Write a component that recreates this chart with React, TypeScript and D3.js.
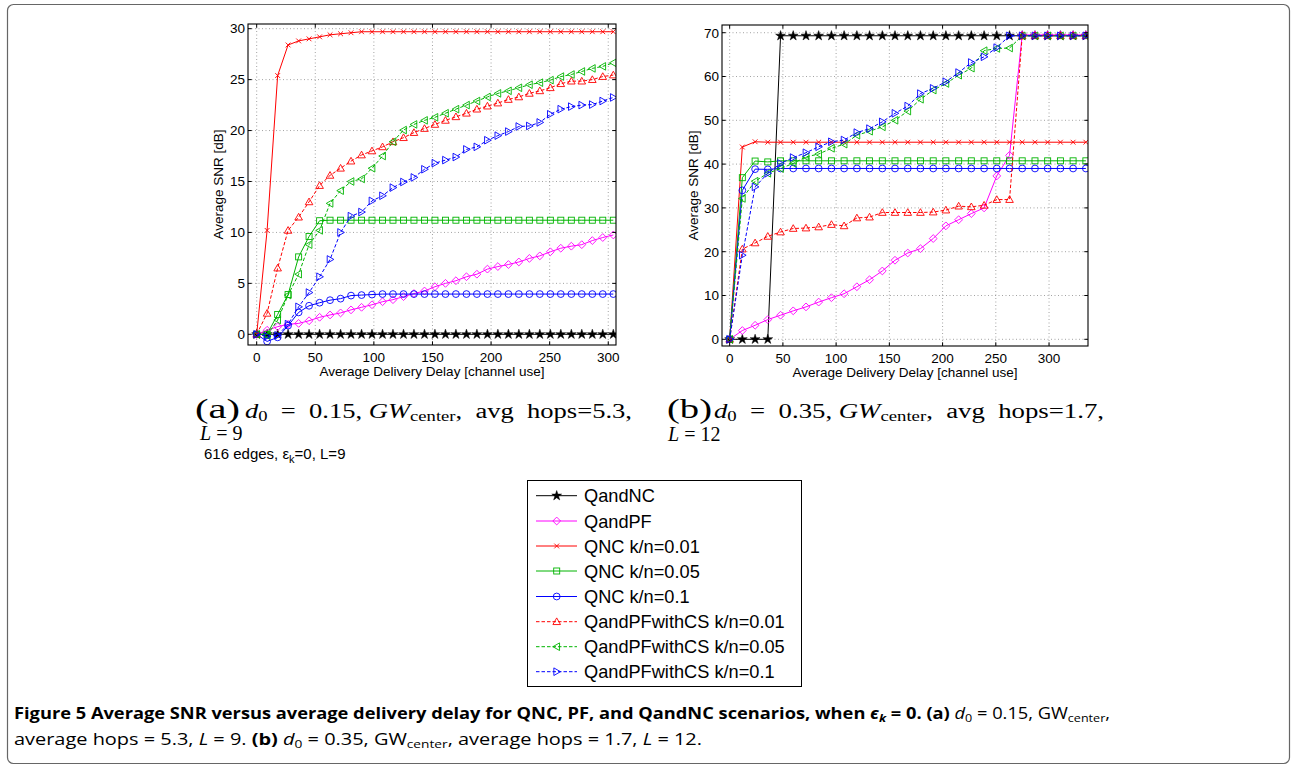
import React from "react";
import * as d3 from "d3";

// ---------- DATA ----------
const leftDelay = [0, 8.9, 17.9, 26.8, 35.8, 44.7, 53.7, 62.6, 71.6, 80.5, 89.5, 98.4, 107.4, 116.3, 125.3, 134.2, 143.2, 152.1, 161.1, 170.0, 179.0, 187.9, 196.9, 205.8, 214.8, 223.7, 232.7, 241.6, 250.6, 259.5, 268.5, 277.4, 286.4, 295.3, 304.3];

const leftQandNC = [0, 0, 0, 0, 0, 0, 0, 0, 0, 0, 0, 0, 0, 0, 0, 0, 0, 0, 0, 0, 0, 0, 0, 0, 0, 0, 0, 0, 0, 0, 0, 0, 0, 0, 0];
const leftQandPF = [0, 0.4, 0.75, 0.98, 1.07, 1.33, 1.67, 1.9, 2.1, 2.4, 2.65, 2.9, 3.2, 3.4, 3.7, 4.0, 4.25, 4.67, 5.0, 5.26, 5.65, 5.9, 6.4, 6.65, 6.85, 7.1, 7.45, 7.7, 8.1, 8.45, 8.65, 8.8, 9.2, 9.5, 9.75];
const leftQNC001 = [0, 10.2, 25.4, 28.4, 28.8, 29.0, 29.2, 29.4, 29.5, 29.6, 29.7, 29.7, 29.7, 29.7, 29.7, 29.7, 29.7, 29.7, 29.7, 29.7, 29.7, 29.7, 29.7, 29.7, 29.7, 29.7, 29.7, 29.7, 29.7, 29.7, 29.7, 29.7, 29.7, 29.7, 29.7];
const leftQNC005 = [0, 0, 1.95, 3.9, 7.6, 9.6, 11.15, 11.2, 11.2, 11.2, 11.2, 11.2, 11.2, 11.2, 11.2, 11.2, 11.2, 11.2, 11.2, 11.2, 11.2, 11.2, 11.2, 11.2, 11.2, 11.2, 11.2, 11.2, 11.2, 11.2, 11.2, 11.2, 11.2, 11.2, 11.2];
const leftQNC01 = [0, -0.7, -0.3, 0.85, 2.15, 2.8, 3.1, 3.35, 3.5, 3.8, 3.85, 3.9, 3.95, 3.95, 3.95, 3.95, 3.95, 3.95, 3.95, 3.95, 3.95, 3.95, 3.95, 3.95, 3.95, 3.95, 3.95, 3.95, 3.95, 3.95, 3.95, 3.95, 3.95, 3.95, 3.95];
const leftCS001 = [0, 2.06, 6.5, 10.2, 11.5, 13.0, 14.6, 15.6, 16.3, 17.0, 17.6, 18.0, 18.4, 18.9, 19.3, 19.8, 20.2, 20.6, 21.0, 21.35, 21.7, 22.1, 22.4, 22.7, 23.05, 23.3, 23.65, 23.9, 24.2, 24.6, 24.85, 24.85, 25.0, 25.3, 25.45];
const leftCS005 = [0, -0.1, 1.4, 3.85, 5.9, 8.8, 10.2, 12.85, 14.1, 15.0, 15.25, 16.3, 17.5, 18.9, 20.05, 20.6, 21.0, 21.3, 21.7, 22.1, 22.5, 22.9, 23.3, 23.65, 23.9, 24.2, 24.5, 24.7, 24.95, 25.3, 25.5, 25.8, 26.1, 26.3, 26.65];
const leftCS01 = [0, -0.2, -0.1, 1.0, 2.7, 4.1, 5.65, 7.35, 10.0, 11.6, 12.0, 13.1, 13.6, 14.4, 14.95, 15.4, 16.2, 16.8, 17.1, 17.4, 18.15, 18.4, 19.05, 19.5, 19.9, 20.4, 20.45, 20.8, 21.6, 22.1, 22.35, 22.5, 22.55, 22.9, 23.25];

const rightDelay = [0, 11.9, 23.9, 35.8, 47.8, 59.7, 71.7, 83.6, 95.6, 107.5, 119.5, 131.4, 143.4, 155.3, 167.3, 179.2, 191.2, 203.1, 215.1, 227.0, 239.0, 250.9, 262.9, 274.8, 286.8, 298.7, 310.7, 322.6, 334.6];

const rightQandNC = [0, 0, 0, 0, 69.3, 69.3, 69.3, 69.3, 69.3, 69.3, 69.3, 69.3, 69.3, 69.3, 69.3, 69.3, 69.3, 69.3, 69.3, 69.3, 69.3, 69.3, 69.3, 69.3, 69.3, 69.3, 69.3, 69.3, 69.3];
const rightQandPF = [0, 2.0, 3.2, 4.5, 5.5, 6.5, 7.4, 8.5, 9.5, 10.4, 12.0, 13.6, 15.6, 18.05, 19.7, 20.7, 23.0, 25.9, 27.3, 28.7, 30.0, 37.3, 42.0, 69.5, 69.5, 69.5, 69.5, 69.5, 69.5];
const rightQNC001 = [0, 43.9, 45.1, 45.0, 45.0, 45.0, 45.0, 45.0, 45.0, 45.0, 45.0, 45.0, 45.0, 45.0, 45.0, 45.0, 45.0, 45.0, 45.0, 45.0, 45.0, 45.0, 45.0, 45.0, 45.0, 45.0, 45.0, 45.0, 45.0];
const rightQNC005 = [0, 36.9, 40.7, 40.5, 40.75, 40.75, 40.75, 40.75, 40.75, 40.75, 40.75, 40.75, 40.75, 40.75, 40.75, 40.75, 40.75, 40.75, 40.75, 40.75, 40.75, 40.75, 40.75, 40.75, 40.75, 40.75, 40.75, 40.75, 40.75];
const rightQNC01 = [0, 34.0, 38.85, 38.8, 39.0, 39.0, 39.0, 39.0, 39.0, 39.0, 39.0, 39.0, 39.0, 39.0, 39.0, 39.0, 39.0, 39.0, 39.0, 39.0, 39.0, 39.0, 39.0, 39.0, 39.0, 39.0, 39.0, 39.0, 39.0];
const rightCS001 = [0, 20.6, 22.0, 23.5, 24.5, 25.3, 25.4, 25.65, 26.2, 25.9, 27.7, 27.9, 28.95, 28.95, 28.95, 28.95, 29.05, 29.5, 30.4, 30.25, 30.6, 31.9, 31.9, 69.3, 69.3, 69.3, 69.3, 69.3, 69.3];
const rightCS005 = [0, 32.15, 36.1, 37.9, 39.0, 40.15, 41.65, 42.3, 43.6, 44.55, 46.6, 47.5, 48.5, 50.0, 52.1, 54.8, 56.9, 58.4, 60.3, 61.9, 65.9, 66.4, 66.5, 69.3, 69.3, 69.3, 69.3, 69.3, 69.3];
const rightCS01 = [0, 19.2, 34.8, 37.9, 40.15, 41.5, 42.6, 43.95, 45.1, 45.5, 47.2, 48.1, 49.65, 51.6, 53.25, 56.1, 57.3, 58.8, 60.9, 63.2, 64.5, 66.6, 69.3, 69.3, 69.3, 69.3, 69.3, 69.3, 69.3];

const seriesNames = ["QandNC", "QandPF", "QNC k/n=0.01", "QNC k/n=0.05", "QNC k/n=0.1", "QandPFwithCS k/n=0.01", "QandPFwithCS k/n=0.05", "QandPFwithCS k/n=0.1"];
const seriesColors = ["#000000", "#ff00ff", "#ff0000", "#00b400", "#0000ff", "#ff0000", "#00b400", "#0000ff"];
const seriesMarkers = ["star", "diamond", "x", "square", "circle", "triUp", "triLeft", "triRight"];
const seriesDashed = [false, false, false, false, false, true, true, true];

const leftValues = [leftQandNC, leftQandPF, leftQNC001, leftQNC005, leftQNC01, leftCS001, leftCS005, leftCS01];
const rightValues = [rightQandNC, rightQandPF, rightQNC001, rightQNC005, rightQNC01, rightCS001, rightCS005, rightCS01];

const xTickValues = [0, 50, 100, 150, 200, 250, 300];
const leftYTicks = [0, 5, 10, 15, 20, 25, 30];
const rightYTicks = [0, 10, 20, 30, 40, 50, 60, 70];

const xAxisLabel = "Average Delivery Delay [channel use]";
const yAxisLabel = "Average SNR [dB]";

// ---------- LAYOUT ----------
const SANS = "'Liberation Sans', Arial, Helvetica, sans-serif";
const SERIF = "'Liberation Serif', 'Times New Roman', serif";

const panels = [
  { left: 248, right: 616, top: 24, bottom: 345, xDom: [-7.4, 306.6], yDom: [-1.05, 30.46], yTicks: leftYTicks, delay: leftDelay, values: leftValues, yLabelX: 223 },
  { left: 722, right: 1088, top: 25, bottom: 346, xDom: [-7.2, 336.6], yDom: [-1.53, 71.76], yTicks: rightYTicks, delay: rightDelay, values: rightValues, yLabelX: 698 },
];

function Marker({ type, x, y, color }: { type: string; x: number; y: number; color: string }) {
  const sw = 0.9;
  switch (type) {
    case "star": {
      const p = d3.symbol(d3.symbolStar, 30)();
      return <path d={p || ""} transform={`translate(${x},${y})`} fill={color} stroke={color} strokeWidth={0.5} />;
    }
    case "diamond": {
      const r = 3.9;
      return <path d={`M${x},${y - r}L${x + r},${y}L${x},${y + r}L${x - r},${y}Z`} fill="none" stroke={color} strokeWidth={sw} />;
    }
    case "x": {
      const r = 2.4;
      return <path d={`M${x - r},${y - r}L${x + r},${y + r}M${x - r},${y + r}L${x + r},${y - r}`} fill="none" stroke={color} strokeWidth={sw} />;
    }
    case "square": {
      const r = 3;
      return <rect x={x - r} y={y - r} width={2 * r} height={2 * r} fill="none" stroke={color} strokeWidth={sw} />;
    }
    case "circle":
      return <circle cx={x} cy={y} r={3.4} fill="none" stroke={color} strokeWidth={sw} />;
    case "triUp": {
      const r = 3.8;
      return <path d={`M${x},${y - r}L${x + r},${y + r * 0.75}L${x - r},${y + r * 0.75}Z`} fill="none" stroke={color} strokeWidth={sw} />;
    }
    case "triLeft": {
      const r = 3.8;
      return <path d={`M${x - r},${y}L${x + r * 0.75},${y - r}L${x + r * 0.75},${y + r}Z`} fill="none" stroke={color} strokeWidth={sw} />;
    }
    case "triRight": {
      const r = 3.8;
      return <path d={`M${x + r},${y}L${x - r * 0.75},${y - r}L${x - r * 0.75},${y + r}Z`} fill="none" stroke={color} strokeWidth={sw} />;
    }
  }
  return null;
}

function Panel({ p }: { p: (typeof panels)[number] }) {
  const xs = d3.scaleLinear().domain(p.xDom).range([p.left, p.right]);
  const ys = d3.scaleLinear().domain(p.yDom).range([p.bottom, p.top]);
  const tick = 3.7;
  const clipId = `clip${p.left}`;
  return (
    <g>
      <defs>
        <clipPath id={clipId}>
          <rect x={p.left} y={p.top} width={p.right - p.left} height={p.bottom - p.top} />
        </clipPath>
      </defs>
      {xTickValues.map((t) => (
        <line key={"gx" + t} x1={xs(t)} x2={xs(t)} y1={p.top} y2={p.bottom} stroke="#8c8c8c" strokeWidth={0.8} strokeDasharray="1,2.5" />
      ))}
      {p.yTicks.map((t) => (
        <line key={"gy" + t} x1={p.left} x2={p.right} y1={ys(t)} y2={ys(t)} stroke="#8c8c8c" strokeWidth={0.8} strokeDasharray="1,2.5" />
      ))}
      <g clipPath={`url(#${clipId})`}>
        {p.values.map((vals, si) => {
          const pts: [number, number][] = vals.map((v, i) => [p.delay[i], v]);
          const line = d3.line<[number, number]>().x((d) => xs(d[0])).y((d) => ys(d[1]));
          return (
            <g key={si}>
              <path d={line(pts) || ""} fill="none" stroke={seriesColors[si]} strokeWidth={1} strokeDasharray={seriesDashed[si] ? "3.5,2" : undefined} />
              {pts.map((d, i) => (
                <Marker key={i} type={seriesMarkers[si]} x={xs(d[0])} y={ys(d[1])} color={seriesColors[si]} />
              ))}
            </g>
          );
        })}
      </g>
      <rect x={p.left} y={p.top} width={p.right - p.left} height={p.bottom - p.top} fill="none" stroke="#000" strokeWidth={1.1} />
      {xTickValues.map((t) => (
        <g key={"tx" + t}>
          <line x1={xs(t)} x2={xs(t)} y1={p.bottom} y2={p.bottom - tick} stroke="#000" />
          <line x1={xs(t)} x2={xs(t)} y1={p.top} y2={p.top + tick} stroke="#000" />
          <text x={xs(t)} y={p.bottom + 16.5} textAnchor="middle" fontFamily={SANS} fontSize={13.5}>{t}</text>
        </g>
      ))}
      {p.yTicks.map((t) => (
        <g key={"ty" + t}>
          <line x1={p.left} x2={p.left + tick} y1={ys(t)} y2={ys(t)} stroke="#000" />
          <line x1={p.right} x2={p.right - tick} y1={ys(t)} y2={ys(t)} stroke="#000" />
          <text x={p.left - 3} y={ys(t) + 4.8} textAnchor="end" fontFamily={SANS} fontSize={13.5}>{t}</text>
        </g>
      ))}
      <text x={(p.left + p.right) / 2} y={p.bottom + 31} textAnchor="middle" fontFamily={SANS} fontSize={13.5}>{xAxisLabel}</text>
      <text transform={`translate(${p.yLabelX},${(p.top + p.bottom) / 2}) rotate(-90)`} textAnchor="middle" fontFamily={SANS} fontSize={13.5}>{yAxisLabel}</text>
    </g>
  );
}

function Legend() {
  const x0 = 527.5, y0 = 480.5, w = 274, h = 206;
  const rowY = [495.7, 521, 546, 571, 596.5, 621.7, 646.7, 671.7];
  return (
    <g>
      <rect x={x0} y={y0} width={w} height={h} fill="#fff" stroke="#000" strokeWidth={1} />
      {seriesNames.map((n, i) => (
        <g key={n}>
          <line x1={536} x2={577} y1={rowY[i]} y2={rowY[i]} stroke={seriesColors[i]} strokeWidth={1} strokeDasharray={seriesDashed[i] ? "3.5,2" : undefined} />
          <Marker type={seriesMarkers[i]} x={556.7} y={rowY[i]} color={seriesColors[i]} />
          <text x={584} y={rowY[i] + 6.5} fontFamily={SANS} fontSize={18.2}>{n}</text>
        </g>
      ))}
    </g>
  );
}

export default function App() {
  return (
    <svg width={1292} height={767} style={{ position: "absolute", left: 0, top: 0, background: "#fff" }} xmlns="http://www.w3.org/2000/svg">
      <rect x={0} y={0} width={1292} height={767} fill="#fff" />
      <rect x={7.5} y={4.5} width={1282} height={759} rx={6} fill="none" stroke="#666" strokeWidth={1.2} />
      {panels.map((p, i) => (
        <Panel key={i} p={p} />
      ))}

      <text x={195} y={418} fontFamily={SERIF} fontSize={28} textLength={45} lengthAdjust="spacingAndGlyphs">(a)</text>
      <text x={245} y={418} fontFamily={SERIF} fontSize={20} textLength={387} lengthAdjust="spacingAndGlyphs" style={{ whiteSpace: "pre" }}>
        <tspan fontStyle="italic">d</tspan>
        <tspan fontSize={14} dy={3}>0</tspan>
        <tspan dy={-3}>{"  =  0.15, "}</tspan>
        <tspan fontStyle="italic">GW</tspan>
        <tspan fontSize={14} dy={3}>center</tspan>
        <tspan dy={-3}>{",  avg  hops=5.3,"}</tspan>
      </text>
      <text x={200} y={440} fontFamily={SERIF} fontSize={20} style={{ whiteSpace: "pre" }}>
        <tspan fontStyle="italic">L</tspan>
        <tspan>{" = 9"}</tspan>
      </text>
      <text x={204} y={459} fontFamily={SANS} fontSize={15} style={{ whiteSpace: "pre" }}>
        <tspan>{"616 edges, ε"}</tspan>
        <tspan fontSize={11} dy={4}>k</tspan>
        <tspan dy={-4}>{"=0, L=9"}</tspan>
      </text>

      <text x={667} y={418} fontFamily={SERIF} fontSize={28} textLength={45} lengthAdjust="spacingAndGlyphs">(b)</text>
      <text x={714} y={418} fontFamily={SERIF} fontSize={20} textLength={390} lengthAdjust="spacingAndGlyphs" style={{ whiteSpace: "pre" }}>
        <tspan fontStyle="italic">d</tspan>
        <tspan fontSize={14} dy={3}>0</tspan>
        <tspan dy={-3}>{"  =  0.35, "}</tspan>
        <tspan fontStyle="italic">GW</tspan>
        <tspan fontSize={14} dy={3}>center</tspan>
        <tspan dy={-3}>{",  avg  hops=1.7,"}</tspan>
      </text>
      <text x={668} y={441} fontFamily={SERIF} fontSize={20} style={{ whiteSpace: "pre" }}>
        <tspan fontStyle="italic">L</tspan>
        <tspan>{" = 12"}</tspan>
      </text>

      <Legend />

      <text x={14} y={719} fontFamily="'Open Sans', 'Noto Sans', sans-serif" fontSize={16} textLength={1096} lengthAdjust="spacingAndGlyphs" style={{ whiteSpace: "pre" }}>
        <tspan fontWeight="bold">{"Figure 5 Average SNR versus average delivery delay for QNC, PF, and QandNC scenarios, when "}</tspan>
        <tspan fontWeight="bold" fontStyle="italic">ϵ</tspan>
        <tspan fontWeight="bold" fontStyle="italic" fontSize={11} dy={3}>k</tspan>
        <tspan fontWeight="bold" dy={-3}>{" = 0. (a) "}</tspan>
        <tspan fontStyle="italic">d</tspan>
        <tspan fontSize={11} dy={3}>0</tspan>
        <tspan dy={-3}>{" = 0.15, GW"}</tspan>
        <tspan fontSize={11} dy={3}>center</tspan>
        <tspan dy={-3}>,</tspan>
      </text>
      <text x={14} y={745} fontFamily="'Open Sans', 'Noto Sans', sans-serif" fontSize={16} textLength={688} lengthAdjust="spacingAndGlyphs" style={{ whiteSpace: "pre" }}>
        <tspan>{"average hops = 5.3, "}</tspan>
        <tspan fontStyle="italic">L</tspan>
        <tspan>{" = 9. "}</tspan>
        <tspan fontWeight="bold">(b)</tspan>
        <tspan>{" "}</tspan>
        <tspan fontStyle="italic">d</tspan>
        <tspan fontSize={11} dy={3}>0</tspan>
        <tspan dy={-3}>{" = 0.35, GW"}</tspan>
        <tspan fontSize={11} dy={3}>center</tspan>
        <tspan dy={-3}>{", average hops = 1.7, "}</tspan>
        <tspan fontStyle="italic">L</tspan>
        <tspan>{" = 12."}</tspan>
      </text>
    </svg>
  );
}
